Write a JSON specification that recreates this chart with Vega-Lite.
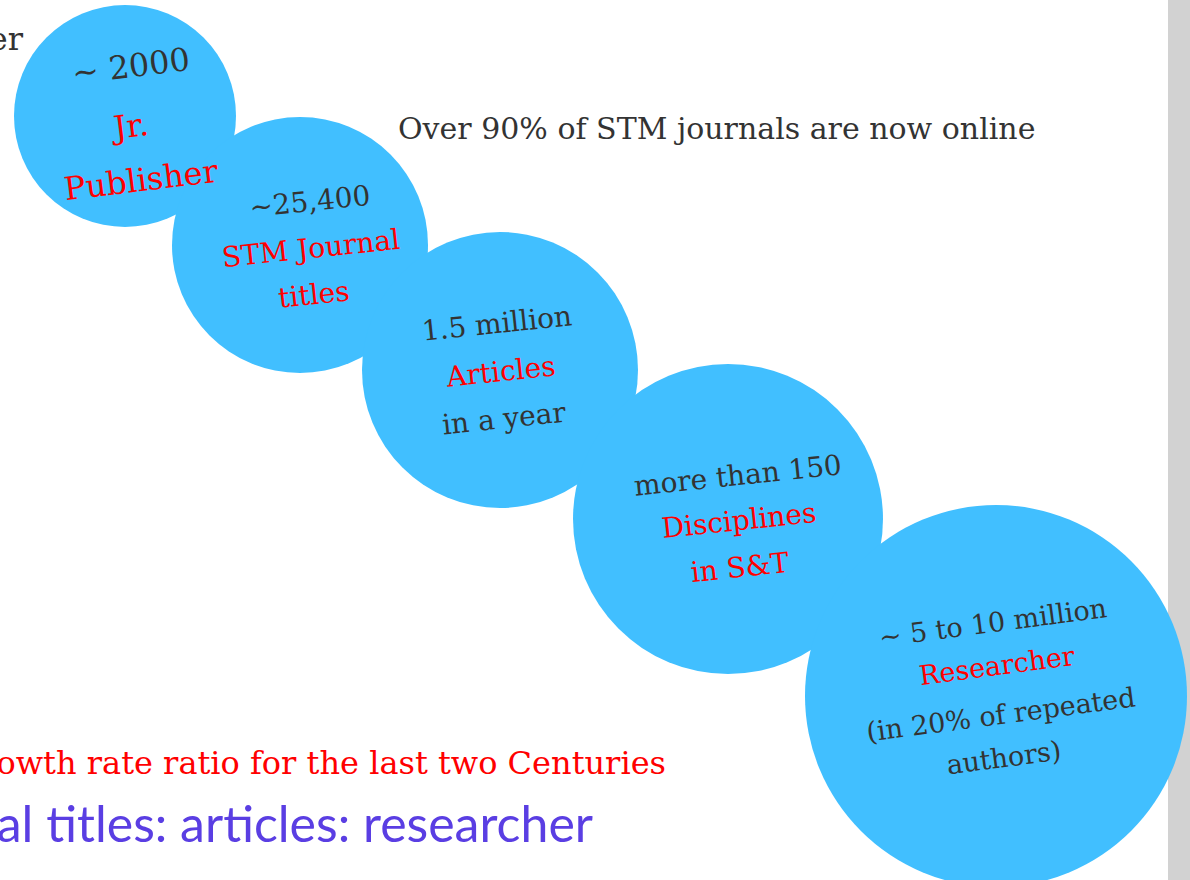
{
  "$schema": "https://vega.github.io/schema/vega-lite/v6.json",
  "width": 1190,
  "height": 880,
  "autosize": "none",
  "padding": 0,
  "background": "#ffffff",
  "config": {"view": {"stroke": null}},
  "datasets": {
    "bar": [{"x0": 1168, "x1": 1190, "y0": 0, "y1": 880}],
    "circles": [
      {"name": "Jr. Publisher", "cx": 125, "cy": 116, "r": 111},
      {"name": "STM Journal titles", "cx": 300, "cy": 245, "r": 128},
      {"name": "Articles", "cx": 500, "cy": 370, "r": 138},
      {"name": "Disciplines", "cx": 728, "cy": 519, "r": 155},
      {"name": "Researcher", "cx": 996, "cy": 696, "r": 191}
    ],
    "labels": [
      {"text": "~ 2000", "kind": "value", "grp": 1, "x": 131, "y": 67},
      {"text": "Jr.", "kind": "label", "grp": 1, "x": 131, "y": 127},
      {"text": "Publisher", "kind": "label", "grp": 1, "x": 141, "y": 181},
      {"text": "~25,400", "kind": "value", "grp": 2, "x": 310, "y": 203},
      {"text": "STM Journal", "kind": "label", "grp": 2, "x": 311, "y": 250},
      {"text": "titles", "kind": "label", "grp": 2, "x": 314, "y": 296},
      {"text": "1.5 million", "kind": "value", "grp": 3, "x": 497, "y": 325},
      {"text": "Articles", "kind": "label", "grp": 3, "x": 501, "y": 373},
      {"text": "in a year", "kind": "value", "grp": 3, "x": 504, "y": 420},
      {"text": "more than 150", "kind": "value", "grp": 4, "x": 738, "y": 477},
      {"text": "Disciplines", "kind": "label", "grp": 4, "x": 739, "y": 522},
      {"text": "in S&T", "kind": "label", "grp": 4, "x": 740, "y": 569},
      {"text": "~ 5 to 10 million", "kind": "value", "grp": 5, "x": 993, "y": 624},
      {"text": "Researcher", "kind": "label", "grp": 5, "x": 997, "y": 667},
      {"text": "(in 20% of repeated", "kind": "value", "grp": 5, "x": 1001, "y": 716},
      {"text": "authors)", "kind": "value", "grp": 5, "x": 1004, "y": 759}
    ],
    "leftnotes": [
      {"text": "Over 90% of STM journals are now online", "kind": "value", "x": 398, "y": 130}
    ],
    "rightnotes": [
      {"text": "er", "kind": "value", "x": 23, "y": 40},
      {"text": "owth rate ratio for the last two Centuries", "kind": "label", "x": 666, "y": 764}
    ],
    "ratio": [
      {"text": "al titles: articles: researcher", "x": 593, "y": 827}
    ]
  },
  "layer": [
    {
      "data": {"name": "bar"},
      "mark": {"type": "rect", "color": "#d2d2d2"},
      "encoding": {
        "x": {"field": "x0", "type": "quantitative", "scale": {"domain": [0, 1190]}, "axis": null},
        "x2": {"field": "x1"},
        "y": {"field": "y0", "type": "quantitative", "scale": {"domain": [0, 880], "reverse": true}, "axis": null},
        "y2": {"field": "y1"}
      }
    },
    {
      "data": {"name": "circles"},
      "mark": {"type": "point", "shape": "circle", "filled": true, "color": "#41bfff", "opacity": 1, "strokeWidth": 0},
      "encoding": {
        "x": {"field": "cx", "type": "quantitative", "scale": {"domain": [0, 1190]}, "axis": null},
        "y": {"field": "cy", "type": "quantitative", "scale": {"domain": [0, 880], "reverse": true}, "axis": null},
        "size": {"field": "r", "type": "quantitative", "scale": {"type": "pow", "exponent": 2, "domain": [0, 200], "range": [0, 160000], "zero": true}, "legend": null}
      }
    },
    {
      "data": {"name": "labels"},
      "transform": [{"filter": "datum.grp == 1"}],
      "mark": {"type": "text", "font": "DejaVu Serif", "fontSize": 32, "align": "center", "baseline": "middle", "angle": -7},
      "encoding": {
        "x": {"field": "x", "type": "quantitative", "scale": {"domain": [0, 1190]}, "axis": null},
        "y": {"field": "y", "type": "quantitative", "scale": {"domain": [0, 880], "reverse": true}, "axis": null},
        "text": {"field": "text"},
        "color": {"field": "kind", "type": "nominal", "scale": {"domain": ["value", "label"], "range": ["#333333", "#ff0000"]}, "legend": null}
      }
    },
    {
      "data": {"name": "labels"},
      "transform": [{"filter": "datum.grp >= 2 && datum.grp <= 4"}],
      "mark": {"type": "text", "font": "DejaVu Serif", "fontSize": 28, "align": "center", "baseline": "middle", "angle": -6},
      "encoding": {
        "x": {"field": "x", "type": "quantitative", "scale": {"domain": [0, 1190]}, "axis": null},
        "y": {"field": "y", "type": "quantitative", "scale": {"domain": [0, 880], "reverse": true}, "axis": null},
        "text": {"field": "text"},
        "color": {"field": "kind", "type": "nominal", "scale": {"domain": ["value", "label"], "range": ["#333333", "#ff0000"]}, "legend": null}
      }
    },
    {
      "data": {"name": "labels"},
      "transform": [{"filter": "datum.grp == 5"}],
      "mark": {"type": "text", "font": "DejaVu Serif", "fontSize": 27, "align": "center", "baseline": "middle", "angle": -7.5},
      "encoding": {
        "x": {"field": "x", "type": "quantitative", "scale": {"domain": [0, 1190]}, "axis": null},
        "y": {"field": "y", "type": "quantitative", "scale": {"domain": [0, 880], "reverse": true}, "axis": null},
        "text": {"field": "text"},
        "color": {"field": "kind", "type": "nominal", "scale": {"domain": ["value", "label"], "range": ["#333333", "#ff0000"]}, "legend": null}
      }
    },
    {
      "data": {"name": "leftnotes"},
      "mark": {"type": "text", "font": "DejaVu Serif", "fontSize": 30, "align": "left", "baseline": "middle"},
      "encoding": {
        "x": {"field": "x", "type": "quantitative", "scale": {"domain": [0, 1190]}, "axis": null},
        "y": {"field": "y", "type": "quantitative", "scale": {"domain": [0, 880], "reverse": true}, "axis": null},
        "text": {"field": "text"},
        "color": {"field": "kind", "type": "nominal", "scale": {"domain": ["value", "label"], "range": ["#333333", "#ff0000"]}, "legend": null}
      }
    },
    {
      "data": {"name": "rightnotes"},
      "mark": {"type": "text", "font": "DejaVu Serif", "fontSize": 32, "align": "right", "baseline": "middle"},
      "encoding": {
        "x": {"field": "x", "type": "quantitative", "scale": {"domain": [0, 1190]}, "axis": null},
        "y": {"field": "y", "type": "quantitative", "scale": {"domain": [0, 880], "reverse": true}, "axis": null},
        "text": {"field": "text"},
        "color": {"field": "kind", "type": "nominal", "scale": {"domain": ["value", "label"], "range": ["#333333", "#ff0000"]}, "legend": null}
      }
    },
    {
      "data": {"name": "ratio"},
      "mark": {"type": "text", "font": "Lato", "fontSize": 50, "align": "right", "baseline": "middle", "color": "#5a3ee3"},
      "encoding": {
        "x": {"field": "x", "type": "quantitative", "scale": {"domain": [0, 1190]}, "axis": null},
        "y": {"field": "y", "type": "quantitative", "scale": {"domain": [0, 880], "reverse": true}, "axis": null},
        "text": {"field": "text"}
      }
    }
  ]
}
